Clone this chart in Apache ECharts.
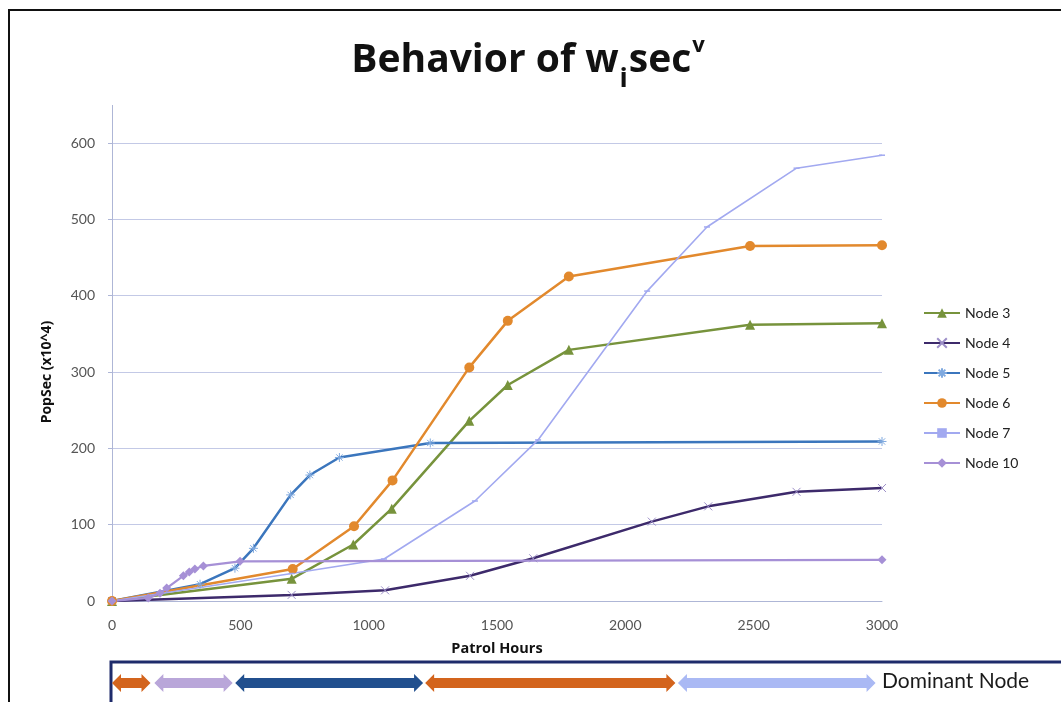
<!DOCTYPE html>
<html>
<head>
<meta charset="utf-8">
<script src="https://cdn.jsdelivr.net/npm/echarts@6/dist/echarts.min.js"></script>
<style>html,body{margin:0;padding:0;background:#fff}#c{width:1061px;height:702px}</style>
</head>
<body>
<div id="c"></div>
<script>
// ---- data ----
const seriesNames = ['Node 3', 'Node 4', 'Node 5', 'Node 6', 'Node 7', 'Node 10'];
const node3 = [[0,0],[700,29],[940,74],[1090,121],[1392,236],[1542,283],[1780,329],[2486,362],[3000,364]];
const node4 = [[0,0],[700,8],[1064,14],[1395,33],[1641,56],[2103,104],[2323,124],[2667,143],[3000,148]];
const node5 = [[0,0],[343,22],[479,43],[551,69],[696,139],[771,165],[886,188],[1240,207],[3000,209]];
const node6 = [[0,0],[704,42],[943,98],[1093,158],[1392,306],[1542,367],[1780,425],[2486,465],[3000,466]];
const node7 = [[0,0],[700,36],[1060,55],[1414,131],[1660,211],[2085,406],[2318,490],[2667,567],[3000,584]];
const node10 = [[0,0],[141,4],[187,10],[213,17],[278,33],[301,38],[323,42],[356,46],[499,52],[3000,54]];
const xTicks = [0, 500, 1000, 1500, 2000, 2500, 3000];
const yTicks = [0, 100, 200, 300, 400, 500, 600];
const dominantStart = [0, 165, 480, 1220, 2205];
const dominantEnd = [150, 470, 1212, 2195, 2975];
const dominantNode = ['Node 6', 'Node 10', 'Node 5', 'Node 6', 'Node 7'];

// ---- styles ----
const colors = {
  'Node 3': '#77933c', 'Node 4': '#3d2a6b', 'Node 5': '#3b76bd',
  'Node 6': '#e2892d', 'Node 7': '#a2a9f0', 'Node 10': '#a690d6'
};
const arrowColors = { 'Node 6': '#d3641d', 'Node 10': '#b9a6d9', 'Node 5': '#214f8e', 'Node 7': '#aab9f4' };
const F = 'Lato, "Open Sans", sans-serif';
const FT = '"Open Sans", Lato, sans-serif';
const axisCol = '#aeb6d6';

const xMark = 'path://M0,0L10,10M10,0L0,10';
const starMark = 'path://M0,5L10,5M5,0L5,10M1.5,1.5L8.5,8.5M8.5,1.5L1.5,8.5';

function lineSeries(name, data, opts) {
  return Object.assign({
    name, type: 'line', data, xAxisIndex: 0, yAxisIndex: 0,
    lineStyle: { color: colors[name], width: 2.5 },
    itemStyle: { color: colors[name] },
    emphasis: { disabled: true },
    z: 3
  }, opts);
}

const series = [
  lineSeries('Node 3', node3, { symbol: 'triangle', symbolSize: 10 }),
  lineSeries('Node 4', node4, { symbol: xMark, symbolSize: 8, itemStyle: { color: 'rgba(0,0,0,0)', borderColor: '#9d8fc8', borderWidth: 1 } }),
  lineSeries('Node 5', node5, { symbol: starMark, symbolSize: 9, itemStyle: { color: 'rgba(0,0,0,0)', borderColor: '#7fa9df', borderWidth: 1 } }),
  lineSeries('Node 6', node6, { symbol: 'circle', symbolSize: 10 }),
  lineSeries('Node 7', node7, { symbol: 'rect', symbolSize: [6, 1.5], lineStyle: { color: colors['Node 7'], width: 1.6 } }),
  lineSeries('Node 10', node10, { symbol: 'diamond', symbolSize: 9, lineStyle: { color: colors['Node 10'], width: 2.2 } }),
  {
    type: 'custom', xAxisIndex: 1, yAxisIndex: 1, silent: true,
    data: dominantStart.map((s, i) => [s, dominantEnd[i], i]),
    renderItem: function (params, api) {
      const a = api.coord([api.value(0), 0.5]);
      const b = api.coord([api.value(1), 0.5]);
      const y = a[1], x0 = a[0], x1 = b[0];
      const h = 9, H = 9, bh = 5;
      const pts = [[x0, y], [x0 + h, y - H], [x0 + h, y - bh], [x1 - h, y - bh], [x1 - h, y - H], [x1, y],
                   [x1 - h, y + H], [x1 - h, y + bh], [x0 + h, y + bh], [x0 + h, y + H]];
      return { type: 'polygon', shape: { points: pts }, style: { fill: arrowColors[dominantNode[api.value(2)]] } };
    }
  }
];

// ---- title layout via measured text widths ----
const ctx = document.createElement('canvas').getContext('2d');
function tw(txt, size) { ctx.font = 'bold ' + size + 'px ' + FT; return ctx.measureText(txt).width; }
const tMainSize = 39, tSubSize = 27, tSupSize = 22;
const w1 = tw('Behavior of w', tMainSize), w2 = tw('i', tSubSize), w3 = tw('sec', tMainSize), w4 = tw('v', tSupSize);
const total = w1 + w2 + w3 + w4 + 3;
const tx0 = 528 - total / 2;

const chart = echarts.init(document.getElementById('c'), null, { renderer: 'canvas' });
chart.setOption({
  animation: false,
  backgroundColor: '#fff',
  textStyle: { fontFamily: F },
  grid: [
    { left: 112, right: 179, top: 143, bottom: 101, containLabel: false },
    { left: 112, right: 179, top: 670, height: 26 }
  ],
  xAxis: [
    {
      type: 'value', min: 0, max: 3000, interval: 500, gridIndex: 0,
      name: 'Patrol Hours', nameLocation: 'middle', nameGap: 40,
      nameTextStyle: { fontFamily: FT, fontWeight: 'bold', fontSize: 14.5, color: '#111' },
      axisLine: { show: true, lineStyle: { color: axisCol, width: 1 } },
      axisTick: { show: false },
      splitLine: { show: false },
      axisLabel: { fontFamily: F, fontSize: 14, color: '#555', margin: 17, formatter: v => xTicks.includes(v) ? String(v) : '' }
    },
    { type: 'value', min: 0, max: 3000, gridIndex: 1, show: false }
  ],
  yAxis: [
    {
      type: 'value', min: 0, max: 600, interval: 100, gridIndex: 0,
      name: 'PopSec (x10^4)', nameLocation: 'middle', nameGap: 58,
      nameTextStyle: { fontFamily: FT, fontWeight: 'bold', fontSize: 14, color: '#111' },
      axisLine: { show: true, lineStyle: { color: axisCol, width: 1 } },
      axisTick: { show: true, length: 4, lineStyle: { color: axisCol } },
      splitLine: { show: true, lineStyle: { color: '#c3c9e6', width: 1 } },
      axisLabel: { fontFamily: F, fontSize: 14, color: '#555', margin: 17, formatter: v => yTicks.includes(v) ? String(v) : '' }
    },
    { type: 'value', min: 0, max: 1, gridIndex: 1, show: false }
  ],
  legend: {
    orient: 'vertical', left: 918, top: 301,
    data: seriesNames,
    itemWidth: 36, itemHeight: 12, itemGap: 16,
    textStyle: { fontFamily: F, fontSize: 14, color: '#222' },
    selectedMode: false
  },
  graphic: [
    { type: 'rect', shape: { x: 9, y: 10, width: 1200, height: 800 }, style: { fill: 'none', stroke: '#111', lineWidth: 2 }, silent: true, z: 0 },
    { type: 'line', shape: { x1: 112.5, y1: 105, x2: 112.5, y2: 143 }, style: { stroke: axisCol, lineWidth: 1 }, silent: true },
    { type: 'rect', shape: { x: 111, y: 662, width: 1000, height: 60 }, style: { fill: 'none', stroke: '#1e2b6b', lineWidth: 3 }, silent: true, z: 1 },
    { type: 'text', left: 882, top: 671, style: { text: 'Dominant Node', font: '21px ' + F, fill: '#1a1a1a' }, silent: true },
    { type: 'text', x: tx0, y: 80, style: { text: 'Behavior of w', font: 'bold ' + tMainSize + 'px ' + FT, fill: '#111', verticalAlign: 'bottom' } },
    { type: 'text', x: tx0 + w1 + 1, y: 93, style: { text: 'i', font: 'bold ' + tSubSize + 'px ' + FT, fill: '#111', verticalAlign: 'bottom' } },
    { type: 'text', x: tx0 + w1 + w2 + 2, y: 80, style: { text: 'sec', font: 'bold ' + tMainSize + 'px ' + FT, fill: '#111', verticalAlign: 'bottom' } },
    { type: 'text', x: tx0 + w1 + w2 + w3 + 3, y: 57, style: { text: 'v', font: 'bold ' + tSupSize + 'px ' + FT, fill: '#111', verticalAlign: 'bottom' } }
  ],
  series
});
</script>
</body>
</html>
